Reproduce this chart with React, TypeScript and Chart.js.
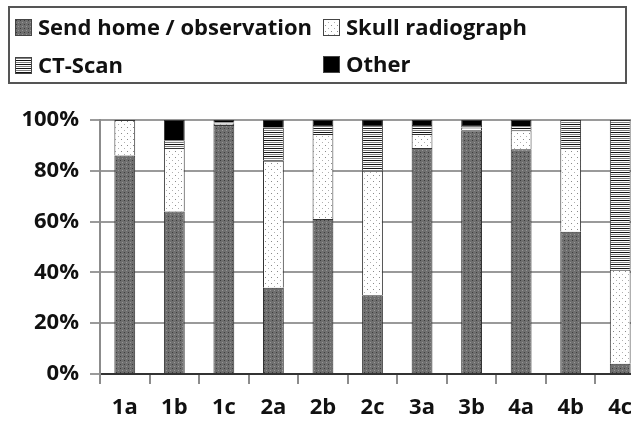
import React, { useEffect, useRef } from "react";
import { Chart, registerables } from "chart.js";

Chart.register(...registerables);

const categories = ["1a", "1b", "1c", "2a", "2b", "2c", "3a", "3b", "4a", "4b", "4c"];
const sendHome = [86, 64, 98, 34, 61, 31, 89, 96, 88.5, 56, 4];
const skull = [14, 25, 0.5, 50, 33.5, 49, 5.5, 1, 7.5, 33, 37];
const ctScan = [0, 3, 0.5, 13, 3.5, 18, 3.5, 1, 1.5, 11, 59];
const other = [0, 8, 1, 3, 2, 2, 2, 2, 2.5, 0, 0];
const seriesNames = ["Send home / observation", "Skull radiograph", "CT-Scan", "Other"];
const yTicks = [0, 20, 40, 60, 80, 100];

const FONT = "'Open Sans'";
const FONT_SIZE = 22;

function makeTile(w: number, h: number, draw: (c: CanvasRenderingContext2D) => void) {
  const cv = document.createElement("canvas");
  cv.width = w;
  cv.height = h;
  const c = cv.getContext("2d")!;
  draw(c);
  const ctx = document.createElement("canvas").getContext("2d")!;
  return ctx.createPattern(cv, "repeat")!;
}

function makePatterns() {
  const send = makeTile(4, 4, (c) => {
    c.fillStyle = "#6f6f6f";
    c.fillRect(0, 0, 4, 4);
    c.fillStyle = "#3c3c3c";
    c.fillRect(0, 0, 1, 1);
    c.fillStyle = "#969696";
    c.fillRect(2, 2, 1, 1);
  });
  const sk = makeTile(6, 6, (c) => {
    c.fillStyle = "#ffffff";
    c.fillRect(0, 0, 6, 6);
    c.fillStyle = "#8a8a8a";
    c.fillRect(1, 1, 1, 1);
    c.fillStyle = "#b0b0b0";
    c.fillRect(4, 4, 1, 1);
  });
  const ct = makeTile(4, 4, (c) => {
    c.fillStyle = "#ffffff";
    c.fillRect(0, 0, 4, 4);
    c.fillStyle = "#111111";
    c.fillRect(0, 0, 4, 1);
    c.fillStyle = "#808080";
    c.fillRect(0, 2, 4, 1);
  });
  return [send, sk, ct, "#000000"];
}

export default function App() {
  const ref = useRef<HTMLCanvasElement | null>(null);

  useEffect(() => {
    if (!ref.current) return;
    const fills = makePatterns();
    const values = [sendHome, skull, ctScan, other];

    const legendPlugin = {
      id: "boxLegend",
      afterDraw(chart: any) {
        const ctx = chart.ctx as CanvasRenderingContext2D;
        ctx.save();
        ctx.strokeStyle = "#555555";
        ctx.lineWidth = 2;
        ctx.strokeRect(9, 7, 617, 76);
        const pos = [
          [15, 28],
          [323, 28],
          [15, 66],
          [323, 65],
        ];
        ctx.font = `bold ${FONT_SIZE}px ${FONT}`;
        ctx.textBaseline = "middle";
        ctx.textAlign = "left";
        seriesNames.forEach((name, i) => {
          const [x, cy] = pos[i];
          ctx.fillStyle = fills[i] as any;
          ctx.fillRect(x, cy - 9, 17, 17);
          ctx.strokeStyle = "#444444";
          ctx.lineWidth = 1;
          ctx.strokeRect(x + 0.5, cy - 8.5, 16, 16);
          ctx.fillStyle = "#111111";
          ctx.fillText(name, x + 23, cy + 1);
        });
        ctx.restore();
      },
    };

    const chart = new Chart(ref.current, {
      type: "bar",
      data: {
        labels: categories,
        datasets: values.map((d, i) => ({
          label: seriesNames[i],
          data: d,
          backgroundColor: fills[i] as any,
          borderColor: "#333333",
          borderWidth: 1,
          barPercentage: 0.42,
          categoryPercentage: 1,
        })),
      },
      options: {
        animation: false,
        responsive: false,
        maintainAspectRatio: false,
        layout: { padding: { top: 120, left: 0, right: 35, bottom: 0 } },
        plugins: {
          legend: { display: false },
          tooltip: { enabled: false },
        },
        scales: {
          x: {
            stacked: true,
            grid: {
              drawOnChartArea: false,
              drawTicks: true,
              tickLength: 10,
              color: "#8c8c8c",
              lineWidth: 2,
              offset: true,
            },
            border: { display: true, color: "#333333", width: 2 },
            ticks: {
              color: "#111111",
              font: { family: FONT, size: FONT_SIZE, weight: "bold" },
              padding: 11,
              maxRotation: 0,
            },
            afterFit(scale: any) {
              scale.height = 49;
            },
          },
          y: {
            stacked: true,
            min: 0,
            max: 100,
            afterBuildTicks(scale: any) {
              scale.ticks = yTicks.map((v) => ({ value: v }));
            },
            grid: {
              color: "#9a9a9a",
              lineWidth: 2,
              tickLength: 10,
              drawTicks: true,
            },
            border: { display: true, color: "#8c8c8c", width: 2 },
            ticks: {
              color: "#111111",
              font: { family: FONT, size: FONT_SIZE, weight: "bold" },
              padding: 11,
              callback: (v: any) => `${v}%`,
            },
            afterFit(scale: any) {
              scale.width = 100;
            },
          },
        },
      },
      plugins: [legendPlugin],
    });
    return () => chart.destroy();
  }, []);

  return (
    <div
      style={{
        position: "fixed",
        left: 0,
        top: 0,
        width: 631,
        height: 423,
        overflow: "hidden",
        background: "#ffffff",
      }}
    >
      <canvas ref={ref} width={680} height={423} style={{ display: "block" }} />
    </div>
  );
}
